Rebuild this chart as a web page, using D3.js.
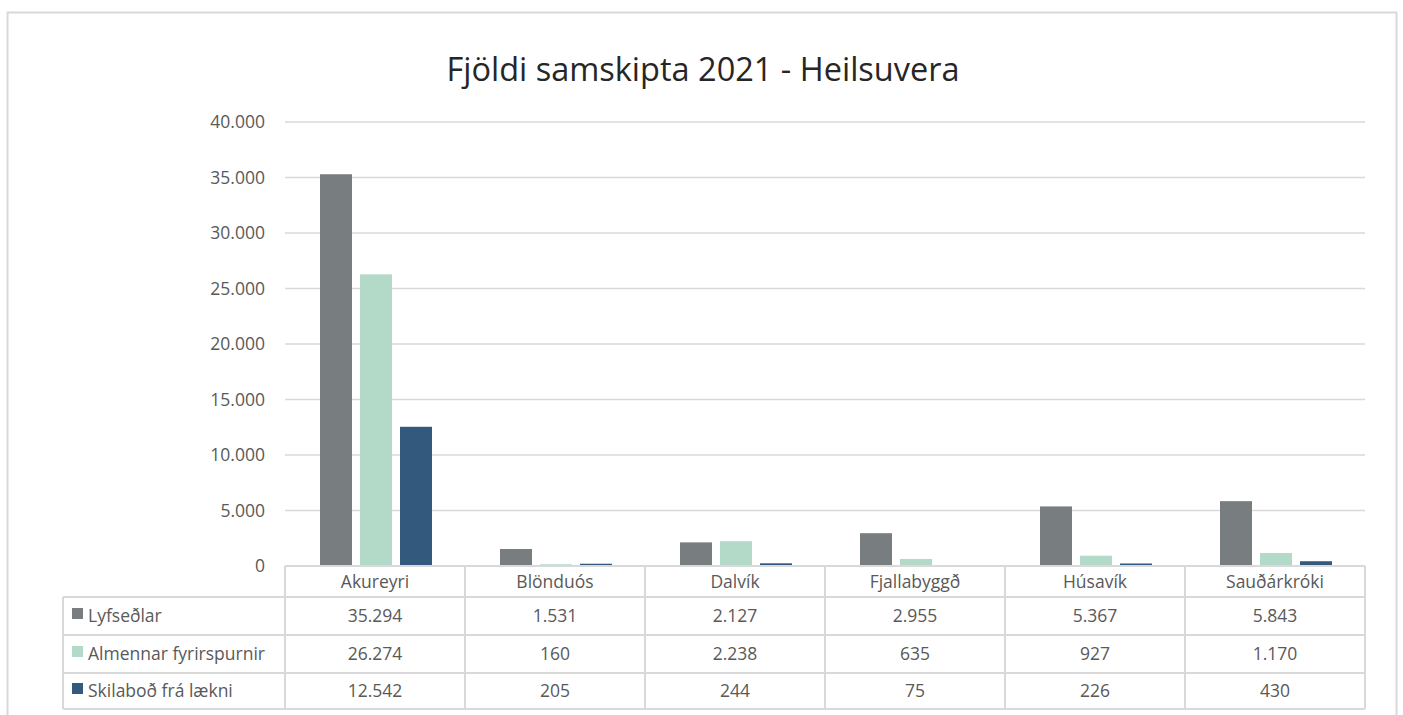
<!DOCTYPE html>
<html>
<head>
<meta charset="utf-8">
<script src="https://cdn.jsdelivr.net/npm/d3@7"></script>
<style>
  body { margin: 0; background: #fff; }
  svg { font-family: "Open Sans", "Noto Sans", sans-serif; }
</style>
</head>
<body>
<svg id="chart" width="1403" height="715"></svg>
<script>
// data
const categories = ["Akureyri", "Blönduós", "Dalvík", "Fjallabyggð", "Húsavík", "Sauðárkróki"];
const seriesNames = ["Lyfseðlar", "Almennar fyrirspurnir", "Skilaboð frá lækni"];
const lyfsedlar = [35294, 1531, 2127, 2955, 5367, 5843];
const almennar = [26274, 160, 2238, 635, 927, 1170];
const skilabod = [12542, 205, 244, 75, 226, 430];
const yTicks = [0, 5000, 10000, 15000, 20000, 25000, 30000, 35000, 40000];
const colors = ["#787d80", "#b3d9c8", "#33597c"];

const seriesValues = [lyfsedlar, almennar, skilabod];
const svg = d3.select("#chart");
const textColor = "#595959";
const lineColor = "#d9d9d9";
const fs = 17.5;

// outer frame
svg.append("rect")
  .attr("x", 7.5).attr("y", 12.5)
  .attr("width", 1389).attr("height", 720)
  .attr("fill", "none").attr("stroke", lineColor).attr("stroke-width", 2);

svg.append("text")
  .attr("x", 703).attr("y", 81)
  .attr("text-anchor", "middle")
  .attr("font-size", 32.5)
  .attr("fill", "#262626")
  .text("Fjöldi samskipta 2021 - Heilsuvera");

const plotLeft = 285, plotRight = 1365, plotTop = 122, plotBottom = 566;

const x = d3.scaleBand().domain(categories).range([plotLeft, plotRight]);
const y = d3.scaleLinear().domain([0, 40000]).range([plotBottom, plotTop]);

const fmt = d3.formatLocale({ decimal: ",", thousands: ".", grouping: [3], currency: ["", ""] }).format(",d");

// gridlines
svg.append("g").selectAll("line").data(yTicks.slice(1)).join("line")
  .attr("x1", plotLeft).attr("x2", plotRight)
  .attr("y1", d => y(d)).attr("y2", d => y(d))
  .attr("stroke", lineColor).attr("stroke-width", 1.5);

// y axis labels
const yAxis = svg.append("g")
  .attr("transform", `translate(${plotLeft},0)`)
  .call(d3.axisLeft(y).tickValues(yTicks).tickFormat(fmt).tickSize(0).tickPadding(20));
yAxis.select(".domain").remove();
yAxis.selectAll("text")
  .attr("font-size", fs).attr("fill", textColor)
  .attr("font-family", "'Open Sans', sans-serif");

// bars
const barW = 32, gap = 8;
const inner = d3.scaleBand().domain(d3.range(3)).range([0, 3 * barW + 2 * gap]).paddingInner(gap / (barW + gap));
const groupOffset = 35;

categories.forEach((c, i) => {
  const g = svg.append("g").attr("transform", `translate(${x(c) + groupOffset},0)`);
  g.selectAll("rect").data(seriesValues.map((s, k) => ({ k, v: s[i] }))).join("rect")
    .attr("x", d => inner(d.k))
    .attr("width", inner.bandwidth())
    .attr("y", d => y(d.v))
    .attr("height", d => plotBottom - y(d.v))
    .attr("fill", d => colors[d.k]);
});

// data table
const tableLeft = 63;
const rowEdges = [plotBottom, 597, 635, 673, 709];
const tbl = svg.append("g");

rowEdges.forEach((ry, i) => {
  tbl.append("line")
    .attr("x1", i === 0 ? plotLeft : tableLeft).attr("x2", plotRight)
    .attr("y1", ry).attr("y2", ry)
    .attr("stroke", lineColor).attr("stroke-width", 2);
});
const colEdges = [plotLeft].concat(categories.map(c => x(c) + x.bandwidth()));
colEdges.forEach(cx => {
  tbl.append("line")
    .attr("x1", cx).attr("x2", cx)
    .attr("y1", plotBottom).attr("y2", rowEdges[4])
    .attr("stroke", lineColor).attr("stroke-width", 2);
});
tbl.append("line")
  .attr("x1", tableLeft).attr("x2", tableLeft)
  .attr("y1", rowEdges[1]).attr("y2", rowEdges[4])
  .attr("stroke", lineColor).attr("stroke-width", 2);

// header
tbl.selectAll("text.cat").data(categories).join("text")
  .attr("class", "cat")
  .attr("x", d => x(d) + x.bandwidth() / 2)
  .attr("y", (rowEdges[0] + rowEdges[1]) / 2 + 6)
  .attr("text-anchor", "middle")
  .attr("font-size", fs).attr("fill", textColor)
  .text(d => d);

seriesNames.forEach((name, k) => {
  const cy = (rowEdges[k + 1] + rowEdges[k + 2]) / 2;
  tbl.append("rect")
    .attr("x", 72).attr("y", cy - 8).attr("width", 11).attr("height", 11)
    .attr("fill", colors[k]);
  tbl.append("text")
    .attr("x", 88).attr("y", cy + 6)
    .attr("font-size", fs).attr("fill", textColor)
    .text(name);
  tbl.selectAll(`text.v${k}`).data(seriesValues[k]).join("text")
    .attr("class", `v${k}`)
    .attr("x", (d, i) => x(categories[i]) + x.bandwidth() / 2)
    .attr("y", cy + 6)
    .attr("text-anchor", "middle")
    .attr("font-size", fs).attr("fill", textColor)
    .text(d => fmt(d));
});
</script>
</body>
</html>
